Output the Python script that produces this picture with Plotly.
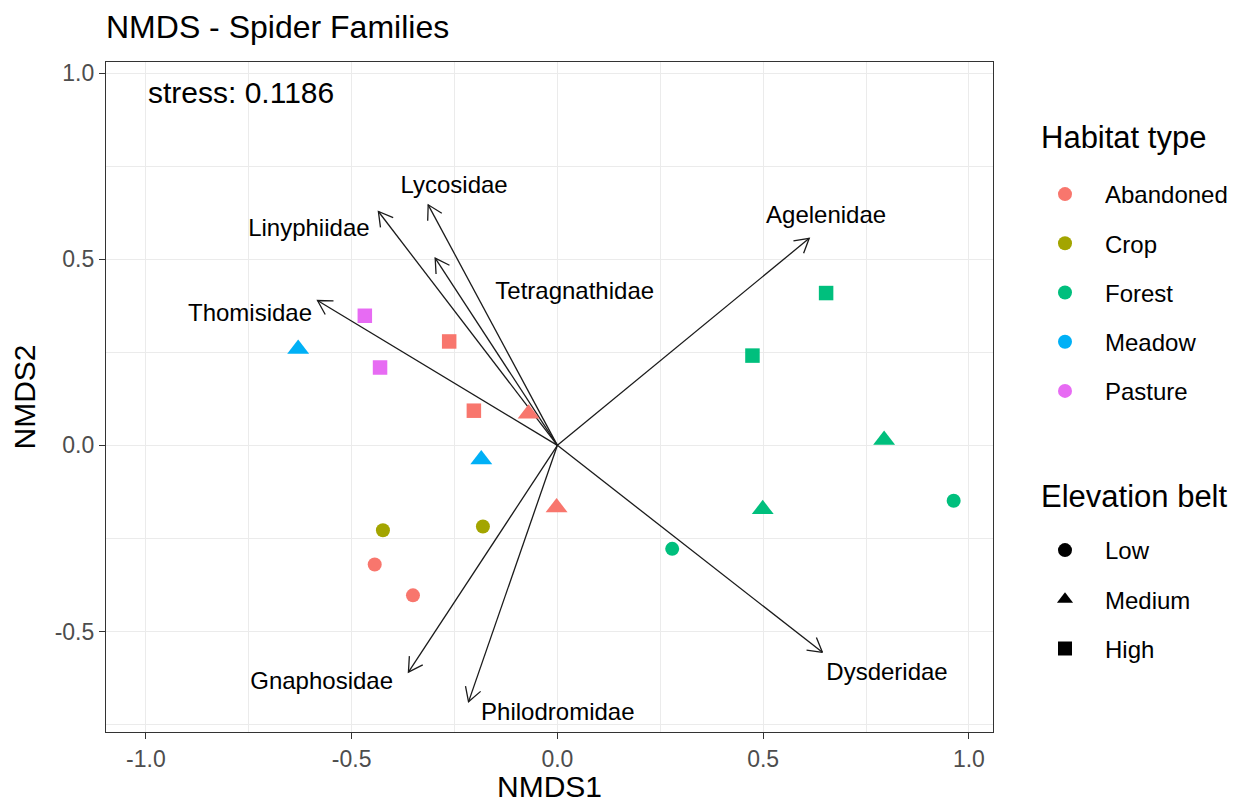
import numpy as np
import plotly.graph_objects as go

# ---------------- data ----------------
habitat_types = ["Abandoned", "Crop", "Forest", "Meadow", "Pasture"]
habitat_colors = ["#F8766D", "#A3A500", "#00BF7D", "#00B0F6", "#E76BF3"]
elevation_belts = ["Low", "Medium", "High"]
elevation_symbols = ["circle", "triangle-up", "square"]

site_habitat = ["Abandoned", "Abandoned", "Abandoned", "Abandoned", "Abandoned", "Abandoned",
                "Crop", "Crop",
                "Forest", "Forest", "Forest", "Forest", "Forest", "Forest",
                "Meadow", "Meadow",
                "Pasture", "Pasture"]
site_elevation = ["High", "High", "Medium", "Medium", "Low", "Low",
                  "Low", "Low",
                  "High", "High", "Medium", "Medium", "Low", "Low",
                  "Medium", "Medium",
                  "High", "High"]
site_nmds1 = [-0.263, -0.203, -0.070, -0.002, -0.444, -0.351,
              -0.424, -0.181,
              0.653, 0.474, 0.794, 0.499, 0.963, 0.279,
              -0.630, -0.185,
              -0.468, -0.431]
site_nmds2 = [0.279, 0.093, 0.085, -0.167, -0.320, -0.403,
              -0.228, -0.218,
              0.409, 0.241, 0.014, -0.172, -0.149, -0.278,
              0.259, -0.038,
              0.348, 0.209]

family_names = ["Agelenidae", "Dysderidae", "Thomisidae", "Linyphiidae",
                "Lycosidae", "Tetragnathidae", "Gnaphosidae", "Philodromidae"]
family_nmds1 = [0.612, 0.644, -0.583, -0.435, -0.314, -0.297, -0.362, -0.216]
family_nmds2 = [0.556, -0.556, 0.389, 0.628, 0.646, 0.503, -0.609, -0.689]
label_nmds1 = [0.653, 0.801, -0.747, -0.604, -0.251, 0.042, -0.573, 0.001]
label_nmds2 = [0.612, -0.615, 0.350, 0.579, 0.694, 0.410, -0.639, -0.722]

stress_value = 0.1186
x_ticks = [-1.0, -0.5, 0.0, 0.5, 1.0]
x_ticktext = ["-1.0", "-0.5", "0.0", "0.5", "1.0"]
y_ticks = [-0.5, 0.0, 0.5, 1.0]
y_ticktext = ["-0.5", "0.0", "0.5", "1.0"]
minor_x = [-0.75, -0.25, 0.25, 0.75]
minor_y = [-0.75, -0.25, 0.25, 0.75]

# ---------------- layout geometry ----------------
# the page body keeps its default 8px margin, so the figure starts at (8, 8)
W, H = 1234, 789
ML, MR, MT, MB = 98, 249, 54, 65
x_range = [-1.097, 1.0586]
y_range = [-0.770, 1.0296]
PW, PH = W - ML - MR, H - MT - MB
px_x = PW / (x_range[1] - x_range[0])
px_y = PH / (y_range[1] - y_range[0])

def paper_x(px):
    return (px - ML) / PW

def paper_y(py):
    return (H - MB - py) / PH

fig = go.Figure()

# arrows (loadings) with open chevron heads
head_len = 16.0
head_ang = np.deg2rad(30)
ax_x, ax_y = [], []
for fx, fy in zip(family_nmds1, family_nmds2):
    dx, dy = fx * px_x, fy * px_y
    n = np.hypot(dx, dy)
    ux, uy = dx / n, dy / n
    wings = []
    for s in (1, -1):
        c, si = np.cos(s * head_ang), np.sin(s * head_ang)
        rx, ry = ux * c - uy * si, ux * si + uy * c
        wings.append((fx - head_len * rx / px_x, fy - head_len * ry / px_y))
    ax_x += [0, fx, None, wings[0][0], fx, wings[1][0], None]
    ax_y += [0, fy, None, wings[0][1], fy, wings[1][1], None]
fig.add_trace(go.Scatter(x=ax_x, y=ax_y, mode="lines",
                         line=dict(color="#1a1a1a", width=1.3),
                         showlegend=False, hoverinfo="skip"))

# site points
sym_size = {"circle": 14, "triangle-up": 19, "square": 14.5}
for h, col in zip(habitat_types, habitat_colors):
    idx = [i for i, v in enumerate(site_habitat) if v == h]
    syms = [elevation_symbols[elevation_belts.index(site_elevation[i])] for i in idx]
    fig.add_trace(go.Scatter(
        x=[site_nmds1[i] for i in idx], y=[site_nmds2[i] for i in idx],
        mode="markers",
        marker=dict(color=col, symbol=syms, size=[sym_size[s] for s in syms],
                    opacity=1, line=dict(width=0)),
        showlegend=False, name=h))

# family labels
fig.add_trace(go.Scatter(x=label_nmds1, y=label_nmds2, mode="text", text=family_names,
                         textposition="middle center",
                         textfont=dict(size=24, color="black"),
                         showlegend=False, hoverinfo="skip"))

# legend entries
for h, col in zip(habitat_types, habitat_colors):
    fig.add_trace(go.Scatter(x=[None], y=[None], mode="markers", name=h,
                             marker=dict(color=col, symbol="circle", size=14),
                             legend="legend", legendgroup=h))
for e, s in zip(elevation_belts, elevation_symbols):
    fig.add_trace(go.Scatter(x=[None], y=[None], mode="markers", name=e,
                             marker=dict(color="black", symbol=s, size=14),
                             legend="legend2", legendgroup=e))

fig.add_annotation(x=-1.0, y=0.947, xref="x", yref="y", text=f"stress: {stress_value}",
                   showarrow=False, xanchor="left", yanchor="middle",
                   font=dict(size=30, color="black"))

# x axis title (placed below the tick labels)
fig.add_annotation(x=0.5, y=paper_y(779), xref="paper", yref="paper",
                   text="NMDS1", showarrow=False, xanchor="center", yanchor="middle",
                   font=dict(size=30, color="black"))

# legend titles
fig.add_annotation(x=paper_x(1031), y=paper_y(129), xref="paper", yref="paper",
                   text="Habitat type", showarrow=False, xanchor="left", yanchor="middle",
                   font=dict(size=31, color="black"))
fig.add_annotation(x=paper_x(1031), y=paper_y(488), xref="paper", yref="paper",
                   text="Elevation belt", showarrow=False, xanchor="left", yanchor="middle",
                   font=dict(size=31, color="black"))

axis_common = dict(
    ticks="outside", ticklen=6, tickwidth=1.2, tickcolor="#333333",
    tickfont=dict(size=23, color="#4D4D4D"),
    showgrid=True, gridcolor="#EBEBEB", gridwidth=1.4,
    showline=True, linecolor="#333333", linewidth=1.2, mirror=True,
    zeroline=False,
)

fig.update_layout(
    width=W, height=H,
    margin=dict(l=ML, r=MR, t=MT, b=MB, autoexpand=False),
    paper_bgcolor="white", plot_bgcolor="white",
    font=dict(family="Liberation Sans, Arial, sans-serif", color="black"),
    title=dict(text="NMDS - Spider Families", x=ML / W, xanchor="left", xref="container",
               y=1 - 19 / H, yanchor="middle", font=dict(size=32, color="black")),
    xaxis=dict(range=x_range, tickvals=x_ticks, ticktext=x_ticktext,
               minor=dict(tickvals=minor_x, showgrid=True, gridcolor="#EBEBEB", gridwidth=0.7),
               **axis_common),
    yaxis=dict(range=y_range, tickvals=y_ticks, ticktext=y_ticktext,
               minor=dict(tickvals=minor_y, showgrid=True, gridcolor="#EBEBEB", gridwidth=0.7),
               title=dict(text="NMDS2", font=dict(size=30), standoff=12), **axis_common),
    legend=dict(font=dict(size=24),
                x=paper_x(1017), y=paper_y(164), xanchor="left", yanchor="top",
                tracegroupgap=15, itemwidth=70, bgcolor="rgba(0,0,0,0)"),
    legend2=dict(font=dict(size=24),
                 x=paper_x(1017), y=paper_y(520), xanchor="left", yanchor="top",
                 tracegroupgap=15, itemwidth=70, bgcolor="rgba(0,0,0,0)"),
    showlegend=True,
)

fig.write_html("out.html")
